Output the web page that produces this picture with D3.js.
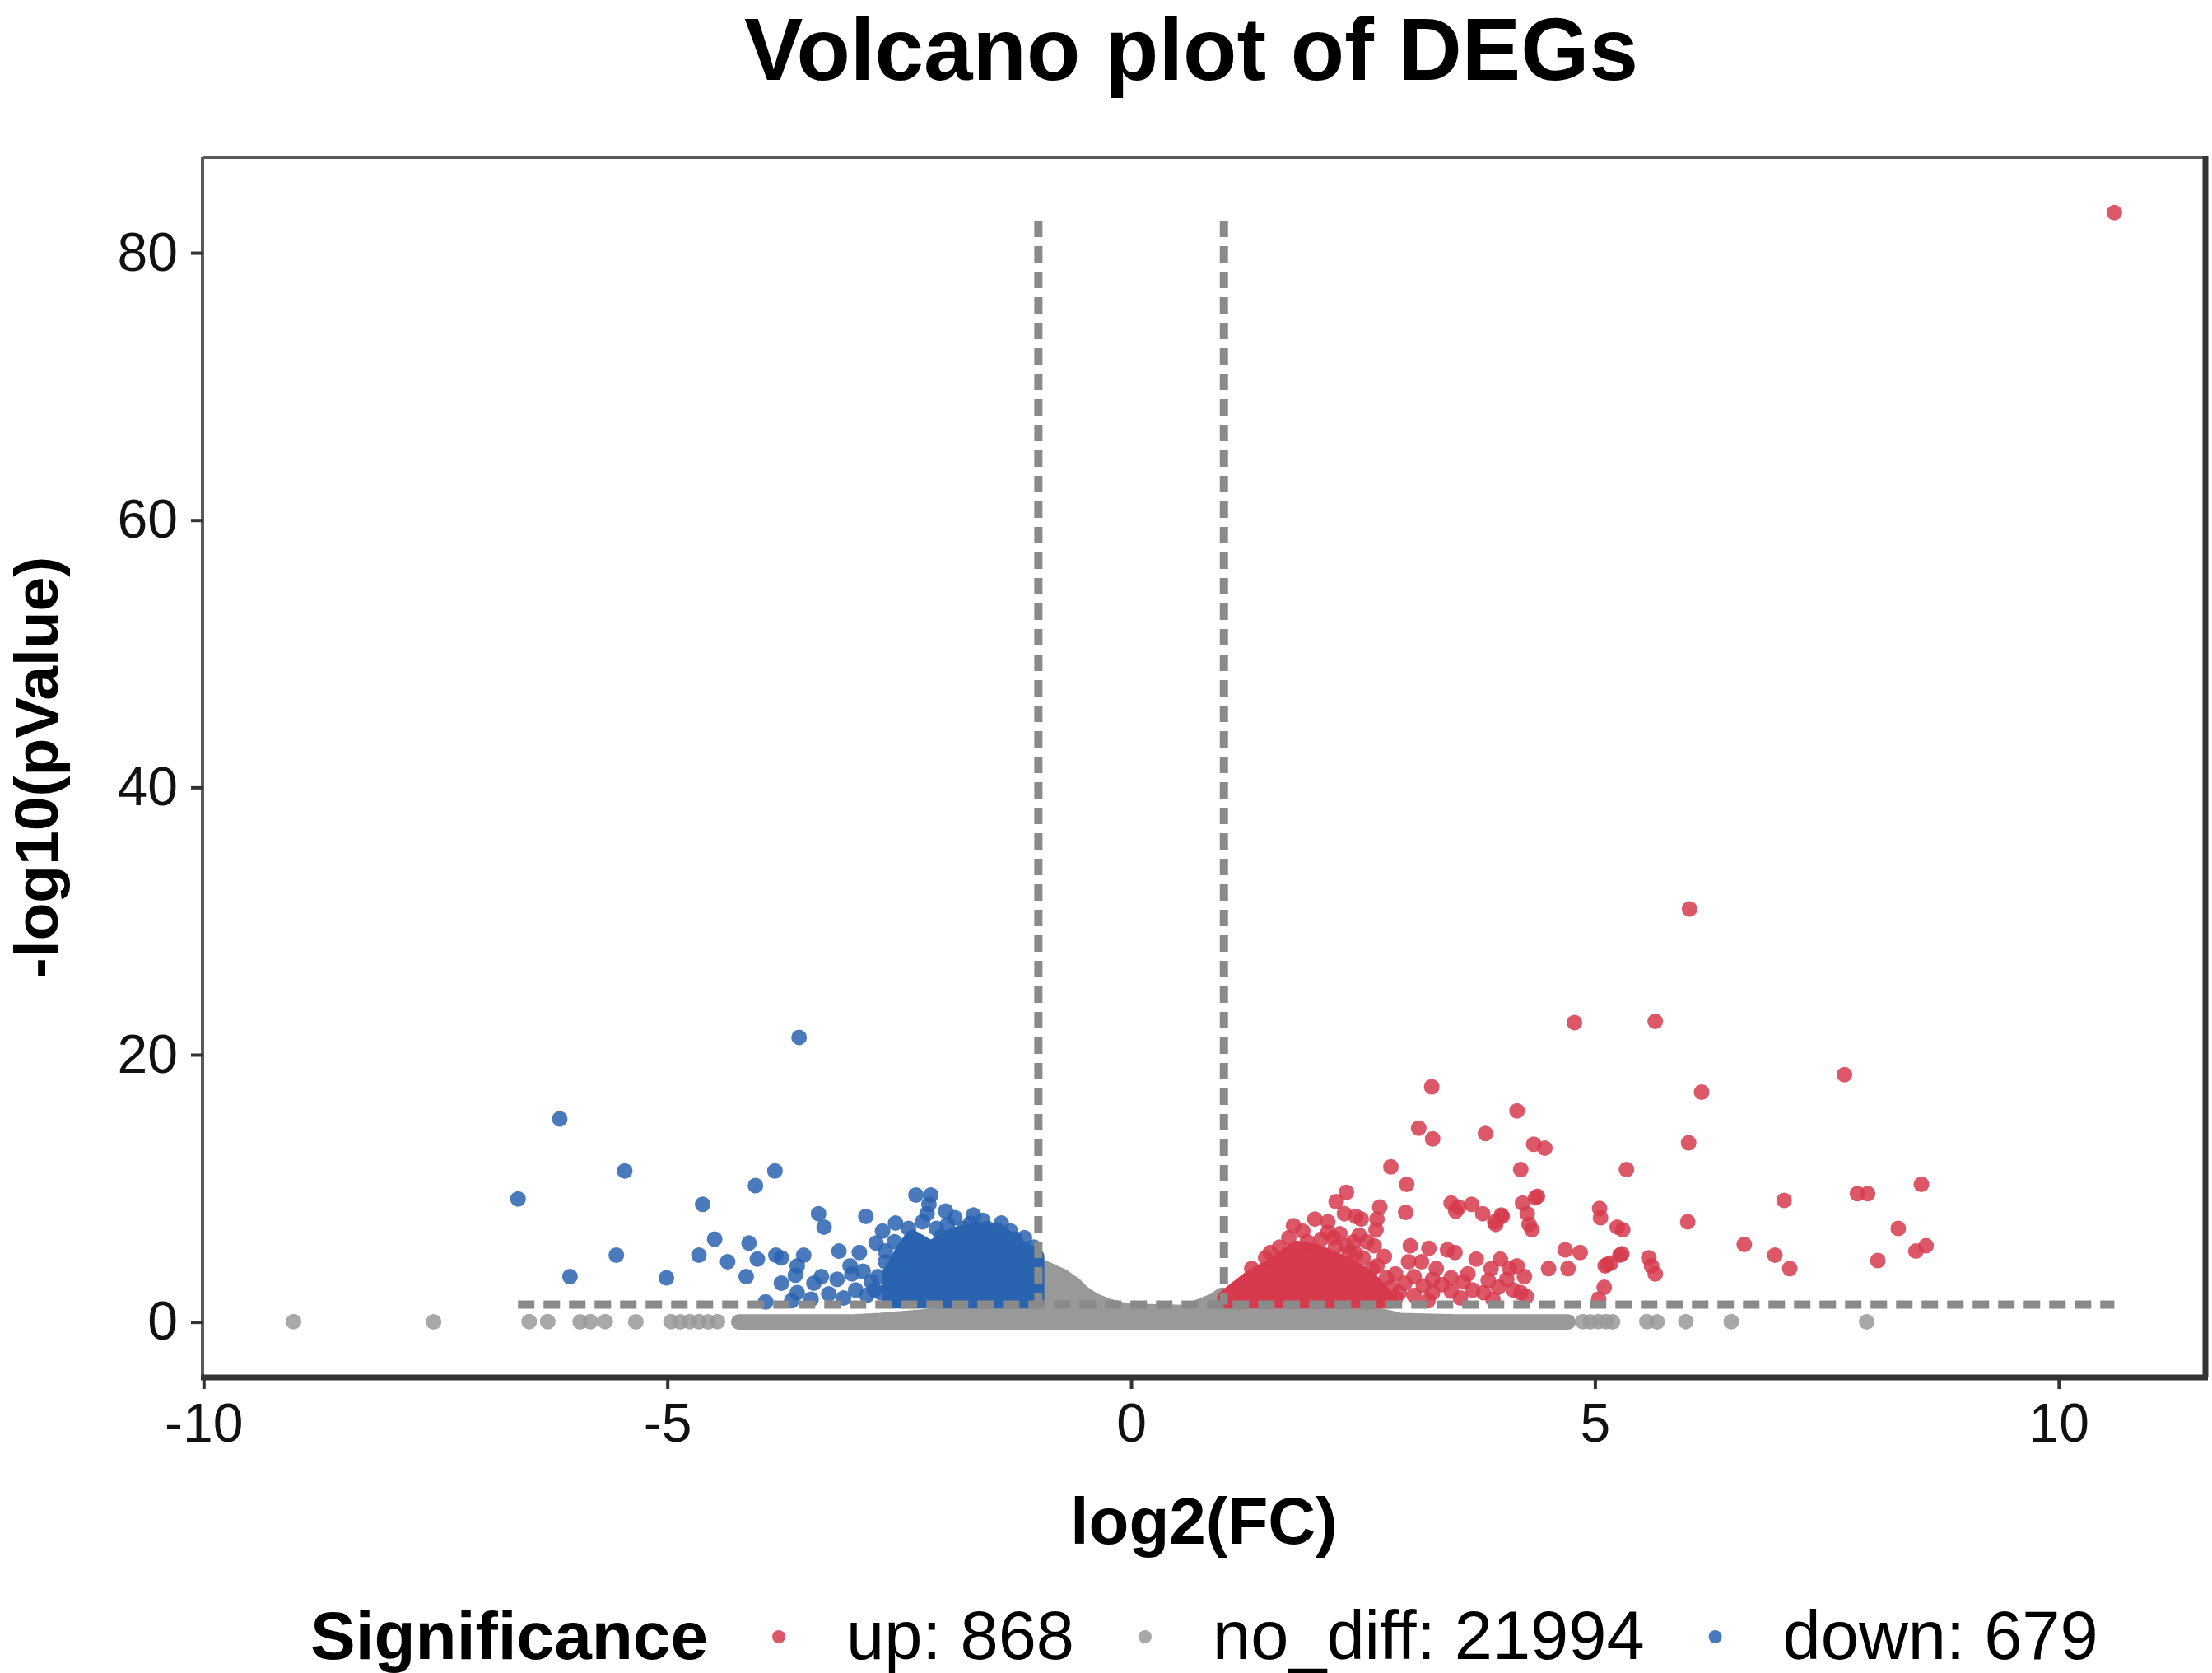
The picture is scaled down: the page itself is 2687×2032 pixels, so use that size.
<!DOCTYPE html>
<html>
<head>
<meta charset="utf-8">
<script src="https://cdn.jsdelivr.net/npm/d3@7"></script>
<style>
  body { margin: 0; background: #fff; }
  text { font-family: "Liberation Sans", Arial, Helvetica, sans-serif; }
</style>
</head>
<body>
<script>
// ---- data (log2FC, -log10 p) ----
var upX = [10.60, 6.02, 4.78, 5.65, 7.69, 6.15, 3.24, 4.16, 3.10, 3.25, 3.82, 4.34, 4.46, 6.01, 2.80, 4.20, 5.34,
           2.97, 8.52, 7.83, 7.94, 7.04, 2.32, 2.21, 2.68, 2.96, 3.45, 3.50, 3.67, 3.79, 3.99, 3.93, 4.22, 4.36,
           4.27, 4.29, 4.32, 5.05, 5.06, 5.24, 5.30, 6.00, 8.27, 6.61, 6.94, 7.10, 8.05, 8.46, 8.57, 5.58, 5.61,
           5.65, 5.27, 5.13, 5.17, 5.10, 5.04, 4.50, 4.68, 4.84, 4.71, 1.98, 2.12, 2.30, 2.42, 2.48, 2.65, 2.64,
           2.12, 2.18, 2.46, 2.54, 2.62, 2.32, 2.42, 2.73, 2.65, 3.01, 3.21, 3.41, 3.49, 2.99, 3.13, 3.29, 2.85,
           3.05, 3.25, 3.45, 3.63, 3.72, 3.88, 3.98, 4.08, 4.16, 4.24, 3.68, 3.80, 3.96, 4.12, 4.20, 2.89, 3.05,
           3.25, 3.45, 3.53, 3.92, 4.00, 4.38, 5.11, 5.29, 3.15, 3.35, 3.58, 3.85, 4.05, 2.95, 3.55, 3.90, 4.26,
           3.20, 2.85, 1.30, 1.45, 1.60, 1.70, 1.85, 1.90, 2.05, 2.20, 2.35, 2.50, 2.60, 2.75, 2.80, 1.50, 1.75,
           2.25, 2.40];
var upY = [83.0, 30.9, 22.4, 22.5, 18.5, 17.2, 17.6, 15.8, 14.5, 13.7, 14.1, 13.3, 13.0, 13.4, 11.6, 11.4, 11.4,
           10.3, 10.3, 9.6, 9.6, 9.1, 9.7, 9.0, 8.6, 8.2, 8.9, 8.3, 8.8, 8.1, 8.0, 7.3, 8.9, 9.3,
           8.1, 7.3, 6.9, 8.5, 7.8, 7.1, 6.9, 7.5, 7.0, 5.8, 5.0, 4.0, 4.6, 5.3, 5.7, 4.8, 4.2,
           3.6, 5.0, 4.3, 4.4, 2.6, 1.7, 4.0, 5.4, 5.2, 4.0, 7.7, 7.5, 8.1, 7.9, 7.7, 7.7, 6.9,
           6.7, 6.3, 6.5, 6.0, 5.7, 5.7, 5.1, 4.9, 4.2, 5.7, 5.5, 5.4, 5.2, 4.5, 4.5, 4.0, 3.6,
           3.4, 3.2, 3.3, 3.6, 4.7, 4.0, 4.7, 4.0, 4.2, 3.4, 2.4, 2.2, 2.6, 2.4, 2.2, 2.2, 2.0,
           2.2, 2.3, 8.6, 7.5, 7.9, 9.4, 4.2, 5.1, 2.7, 2.8, 3.0, 3.1, 3.2, 2.9, 1.8, 1.7, 1.9,
           1.6, 1.8, 4.0, 4.8, 5.6, 6.3, 6.8, 6.0, 6.2, 5.6, 5.2, 4.8, 4.0, 3.3, 2.6, 5.2, 7.2,
           6.6, 6.0];

var downX = [-3.58, -6.16, -5.46, -3.84, -4.05, -6.61, -4.62, -2.32, -2.16, -2.18, -2.20, -3.37, -3.31, -2.86,
             -2.54, -2.68, -4.49, -4.12, -5.55, -4.66, -4.35, -4.03, -3.83, -3.77, -3.53, -3.15, -2.93, -2.75,
             -6.05, -5.01, -4.15, -3.60, -3.62, -3.77, -3.60, -3.94, -3.66, -3.42, -3.34, -3.26, -3.03, -3.01,
             -2.89, -2.97, -2.73, -2.65, -2.58, -3.17, -2.77, -1.98, -1.73, -1.55, -1.45, -1.25, -2.05, -2.30,
             -2.45, -2.50, -2.85, -3.10, -3.45, -2.65, -2.55, -2.40, -2.25, -2.10, -1.90, -1.80, -1.60, -1.40,
             -1.30, -1.15, -1.05, -2.00, -1.70, -2.60, -2.70, -2.80];
var downY = [21.3, 15.2, 11.3, 11.3, 10.2, 9.2, 8.8, 9.5, 9.5, 8.8, 8.1, 8.1, 7.1, 7.9,
             7.4, 6.8, 6.2, 5.9, 5.0, 5.0, 4.5, 4.7, 5.0, 4.8, 5.0, 5.3, 5.2, 5.9,
             3.4, 3.3, 3.4, 4.2, 3.5, 2.9, 2.2, 1.5, 1.6, 2.9, 3.4, 2.1, 4.2, 3.6,
             3.8, 2.4, 3.4, 4.5, 2.8, 3.2, 2.4, 7.3, 7.4, 7.0, 6.9, 6.2, 6.4, 6.0,
             5.4, 4.6, 2.0, 1.8, 1.7, 5.3, 6.0, 7.0, 7.5, 7.0, 7.8, 7.0, 7.6, 7.4,
             6.8, 6.3, 5.6, 8.3, 8.0, 3.0, 2.2, 3.0];

var grayX = [-9.03, -7.52, -6.49, -6.29, -5.94, -5.83, -5.67, -5.34, -4.96, -4.86, -4.76, -4.66, -4.56, -4.46,
             4.87, 4.95, 5.04, 5.12, 5.19, 5.56, 5.67, 5.98, 6.47, 7.93];
var grayY = [0.02, 0.01, 0.03, 0.02, 0.01, 0.02, 0.03, 0.01, 0.02, 0.01, 0.03, 0.02, 0.01, 0.02,
             0.02, 0.01, 0.03, 0.02, 0.01, 0.02, 0.01, 0.03, 0.02, 0.01];

// outlines of the solid, overplotted masses (top edge of the point cloud)
var upCoreX = [1.01, 1.27, 1.59, 1.78, 1.98, 2.18, 2.38, 2.57, 2.73, 2.81];
var upCoreY = [1.8, 3.2, 4.5, 5.5, 5.3, 4.7, 4.1, 3.2, 2.0, 1.6];
var downCoreX = [-2.60, -2.45, -2.36, -2.16, -1.91, -1.63, -1.38, -1.18, -1.02];
var downCoreY = [3.6, 5.4, 6.3, 5.5, 6.5, 6.9, 6.5, 5.5, 4.9];
var grayCoreX = [-4.23, -3.0, -2.7, -2.2, -1.5, -1.05, -1.0, -0.9, -0.74, -0.6, -0.53, -0.4, -0.26, -0.1,
                 0.0, 0.3, 0.56, 0.76, 0.9, 0.98, 1.05, 1.5, 2.0, 2.6, 2.9, 3.5, 4.71];
var grayCoreY = [0, 0, 0.1, 0.4, 0.6, 0.8, 4.2, 3.9, 3.4, 2.7, 2.2, 1.6, 1.2, 0.9,
                 0.8, 0.75, 0.7, 1.2, 1.6, 2.0, 1.2, 0.9, 0.8, 0.6, 0.1, 0, 0];
var sigCoreBase = 1.6;

var fcCut = [-1, 1];
var pCut = 1.3;
var vLineTop = 82.4;

var xTicks = [-10, -5, 0, 5, 10];
var yTicks = [0, 20, 40, 60, 80];

var legendNames = ["up", "no_diff", "down"];
var legendCounts = [868, 21994, 679];
var legendColors = ["#D63A4C", "#999999", "#2A63B0"];

// ---- layout ----
var width = 2687, height = 2032;
var panel = {left: 246, right: 2679, top: 191, bottom: 1673};
var r = 9.5;

var svg = d3.select("body").append("svg")
    .attr("width", width)
    .attr("height", height);

var up = d3.zip(upX, upY),
    down = d3.zip(downX, downY),
    gray = d3.zip(grayX, grayY);

// ggplot style 5% expansion around the data range
var allX = upX.concat(downX, grayX, grayCoreX);
var allY = upY.concat(downY, grayY, grayCoreY);
var xMin = d3.min(allX), xMax = d3.max(allX);
var yMin = d3.min(allY), yMax = d3.max(allY);
var xPad = (xMax - xMin) * 0.05, yPad = (yMax - yMin) * 0.05;

var x = d3.scaleLinear()
    .domain([xMin - xPad, xMax + xPad])
    .range([panel.left, panel.right]);
var y = d3.scaleLinear()
    .domain([yMin - yPad, yMax + yPad])
    .range([panel.bottom, panel.top]);

var plot = svg.append("g");

function drawCore(xs, ys, base, color)
{
    var area = d3.area()
        .x(function(d) { return x(d[0]); })
        .y0(y(base))
        .y1(function(d) { return y(d[1]); });
    plot.append("path")
        .datum(d3.zip(xs, ys))
        .attr("d", area)
        .attr("fill", color)
        .attr("stroke", color)
        .attr("stroke-width", r * 2)
        .attr("stroke-linejoin", "round");
}

function drawPoints(pts, color, cls)
{
    plot.selectAll("circle." + cls)
        .data(pts)
        .enter().append("circle")
        .attr("class", cls)
        .attr("cx", function(d) { return x(d[0]); })
        .attr("cy", function(d) { return y(d[1]); })
        .attr("r", r)
        .attr("fill", color)
        .attr("fill-opacity", 0.85);
}

drawCore(grayCoreX, grayCoreY, 0, legendColors[1]);
drawPoints(gray, legendColors[1], "gray");
drawCore(downCoreX, downCoreY, sigCoreBase, legendColors[2]);
drawPoints(down, legendColors[2], "down");
drawCore(upCoreX, upCoreY, sigCoreBase, legendColors[0]);
drawPoints(up, legendColors[0], "up");

// threshold lines
var dash = {stroke: "#8A8A8A", "stroke-width": 10, "stroke-dasharray": "20,11"};
var hLine = plot.append("line")
    .attr("x1", x(d3.min(downX)))
    .attr("x2", x(d3.max(upX)))
    .attr("y1", y(pCut))
    .attr("y2", y(pCut));
var vLines = plot.selectAll("line.vcut")
    .data(fcCut)
    .enter().append("line")
    .attr("class", "vcut")
    .attr("x1", function(d) { return x(d); })
    .attr("x2", function(d) { return x(d); })
    .attr("y1", y(vLineTop))
    .attr("y2", y(pCut));
[hLine, vLines].forEach(function(sel) {
    Object.keys(dash).forEach(function(k) { sel.attr(k, dash[k]); });
});

// panel border: light top/left, heavier bottom/right
svg.append("line").attr("x1", panel.left).attr("x2", panel.right)
    .attr("y1", panel.top).attr("y2", panel.top)
    .attr("stroke", "#5a5a5a").attr("stroke-width", 4);
svg.append("line").attr("x1", panel.left).attr("x2", panel.left)
    .attr("y1", panel.top).attr("y2", panel.bottom)
    .attr("stroke", "#5a5a5a").attr("stroke-width", 4);
svg.append("line").attr("x1", panel.right).attr("x2", panel.right)
    .attr("y1", panel.top - 2).attr("y2", panel.bottom)
    .attr("stroke", "#333").attr("stroke-width", 7);
svg.append("line").attr("x1", panel.left - 2).attr("x2", panel.right + 3)
    .attr("y1", panel.bottom).attr("y2", panel.bottom)
    .attr("stroke", "#333").attr("stroke-width", 7);

// axes
var xAxis = svg.append("g")
    .attr("transform", "translate(0," + panel.bottom + ")")
    .call(d3.axisBottom(x).tickValues(xTicks).tickSize(14).tickPadding(17).tickFormat(d3.format("d")));
var yAxis = svg.append("g")
    .attr("transform", "translate(" + panel.left + ",0)")
    .call(d3.axisLeft(y).tickValues(yTicks).tickSize(14).tickPadding(16).tickFormat(d3.format("d")));

[xAxis, yAxis].forEach(function(ax) {
    ax.select(".domain").remove();
    ax.selectAll(".tick line").attr("stroke", "#333").attr("stroke-width", 4);
    ax.selectAll(".tick text")
        .attr("fill", "#111")
        .style("font-size", "66px")
        .style("font-family", "'Liberation Sans', Arial, sans-serif");
});
// ggplot uses a hyphen for negatives
xAxis.selectAll(".tick text").text(function(d) { return String(d); });

// titles
svg.append("text")
    .attr("x", 1447).attr("y", 97)
    .attr("text-anchor", "middle")
    .style("font-size", "107px").style("font-weight", "bold")
    .text("Volcano plot of DEGs");

svg.append("text")
    .attr("x", (panel.left + panel.right) / 2).attr("y", 1875)
    .attr("text-anchor", "middle")
    .style("font-size", "80px").style("font-weight", "bold")
    .text("log2(FC)");

svg.append("text")
    .attr("transform", "translate(70," + (panel.top + panel.bottom) / 2 + ") rotate(-90)")
    .attr("text-anchor", "middle")
    .style("font-size", "75px").style("font-weight", "bold")
    .text("-log10(pValue)");

// legend
var legend = svg.append("g");
var legBase = 2015, legMid = 1988;
var cursor = 377;
var legTitle = legend.append("text")
    .attr("x", cursor).attr("y", legBase)
    .style("font-size", "82px").style("font-weight", "bold")
    .text("Significance");
cursor += legTitle.node().getComputedTextLength();

legendNames.forEach(function(name, i) {
    cursor += 86;
    legend.append("circle")
        .attr("cx", cursor).attr("cy", legMid)
        .attr("r", 8)
        .attr("fill", legendColors[i]).attr("fill-opacity", 0.85);
    cursor += 82;
    var t = legend.append("text")
        .attr("x", cursor).attr("y", legBase)
        .style("font-size", "83px")
        .text(name + ": " + legendCounts[i]);
    cursor += t.node().getComputedTextLength();
});
</script>
</body>
</html>
